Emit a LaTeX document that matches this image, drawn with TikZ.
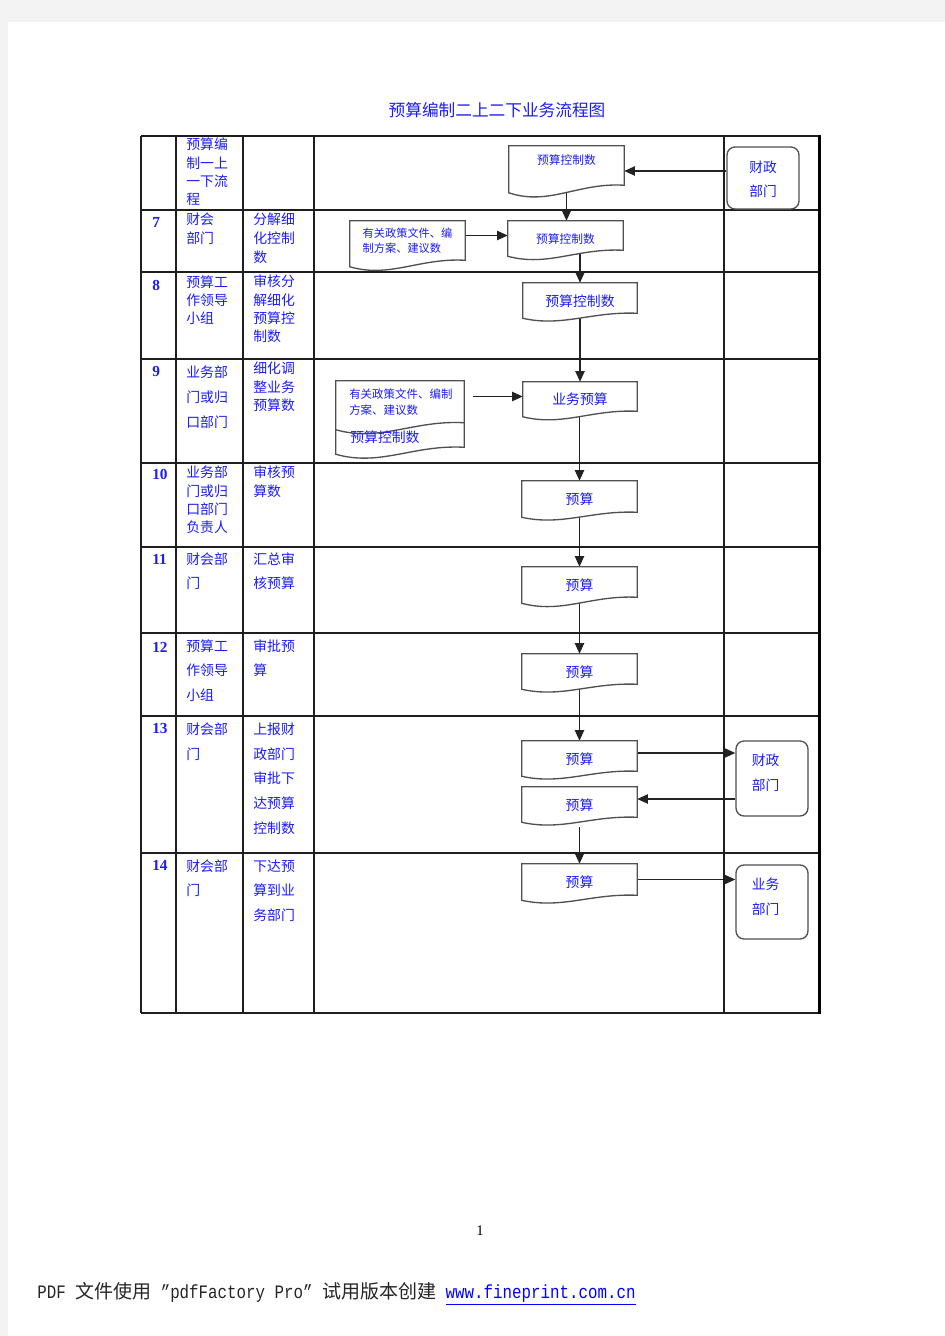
\documentclass[tikz,border=0pt]{standalone}
\usepackage{fontspec}
\usepackage{graphicx}
\setmainfont{Liberation Serif}
\newfontfamily\cjk{Noto Sans CJK SC}
\newfontfamily\monof{Liberation Mono}
\usetikzlibrary{calc,arrows.meta}
\pgfdeclarelayer{bg}
\pgfdeclarelayer{conn}
\pgfdeclarelayer{shp}
\pgfsetlayers{bg,conn,shp,main}
\definecolor{tblue}{RGB}{28,28,250}
\definecolor{pagegray}{RGB}{243,243,243}
\definecolor{gridc}{RGB}{30,30,30}
\definecolor{shpc}{RGB}{80,80,80}
\definecolor{arrc}{RGB}{35,35,35}
% #1 opts, #2 name, #3 x1, #4 ytop, #5 x2, #6 y right-bottom, #7 wave drop, #8 text
\newcommand{\docnode}[8][]{%
  \node[docbox,#1, minimum width={(#5-#3)*0.75pt}, minimum height={(#6-#4)*0.75pt}] (#2) at ({(#3+#5)/2},{(#4+#6)/2}) {#8};
  \begin{pgfonlayer}{shp}
  \draw[shp] (#2.north west) -- (#2.north east) -- (#2.south east)
    .. controls ($(#2.south east)+({-0.4*(#5-#3)},{-0.4*#7})$) and ($(#2.south west)+({0.35*(#5-#3)},{2.8*#7})$) .. ($(#2.south west)+(0,#7)$) -- cycle;
  \end{pgfonlayer}}
\newcommand{\latn}[1]{\scalebox{0.833}[1]{\monof\fontsize{14.25}{16}\selectfont #1}}
\begin{document}
\begin{tikzpicture}[x=0.75pt,y=-0.75pt,
  grid/.style={draw=gridc, line width=0.95pt},
  docbox/.style={rectangle, inner sep=0pt, text=tblue, font=\cjk\fontsize{10.4}{12}\selectfont},
  smallf/.style={font=\cjk\fontsize{8.8}{10}\selectfont},
  tlow/.style={text height=1.3em, text depth=0.07em},
  tup/.style={text height=0.83em, text depth=9.6pt},
  shp/.style={draw=shpc, line width=1pt, fill=white},
  arr/.style={draw=arrc, line width=1pt, -{Triangle[length=8pt,width=7pt]}},
  side/.style={rectangle, rounded corners=6pt, draw=shpc, line width=1pt, fill=white, inner sep=0pt, minimum width=54pt},
  sidet/.style={align=center, inner sep=0pt, text=tblue},
  cellt/.style={anchor=north west, inner sep=0pt, text=tblue, align=left},
  sA/.style={font=\cjk\fontsize{10.4}{13.75}\selectfont},
  sB/.style={font=\cjk\fontsize{10.4}{14}\selectfont},
  sC/.style={font=\cjk\fontsize{10.4}{18.5}\selectfont},
  numt/.style={anchor=west, inner sep=0pt, text=tblue, font=\bfseries\fontsize{11.5}{12}\selectfont}
]
\useasboundingbox (0,0) rectangle (945,1336);
\begin{pgfonlayer}{bg}
\fill[pagegray] (0,0) rectangle (945,1336);
\fill[white] (8,22) rectangle (945,1336);
\end{pgfonlayer}

% title
\node[text=tblue, font=\cjk\fontsize{12.5}{14}\selectfont] (title) at (497,110) {预算编制二上二下业务流程图};

% table grid
\foreach \y in {136,210,272,359,463,547,633,716,853,1013}
  \draw[grid] (141,\y) -- (820,\y);
\foreach \x in {141,176,243,314,724}
  \draw[grid] (\x,136) -- (\x,1013);
\draw[draw=black, line width=1.6pt] (819.5,135.4) -- (819.5,1013.6);

% cell texts
\node[cellt,sA] (h1) at (186,137.8) {预算编\\制一上\\一下流\\程};

\node[numt] (n7) at (152,222) {7};
\node[cellt,sB] (r7a) at (186,212.8) {财会\\部门};
\node[cellt,sB] (r7b) at (253,212.8) {分解细\\化控制\\数};

\node[numt] (n8) at (152,285) {8};
\node[cellt,sA] (r8a) at (186,275.3) {预算工\\作领导\\小组};
\node[cellt,sA] (r8b) at (253,274.8) {审核分\\解细化\\预算控\\制数};

\node[numt] (n9) at (152,371) {9};
\node[cellt,sC] (r9a) at (186,365.8) {业务部\\门或归\\口部门};
\node[cellt,sA] (r9b) at (253,361.8) {细化调\\整业务\\预算数};

\node[numt] (n10) at (152,474.5) {10};
\node[cellt,sA] (r10a) at (186,465.8) {业务部\\门或归\\口部门\\负责人};
\node[cellt,sA] (r10b) at (253,465.8) {审核预\\算数};

\node[numt] (n11) at (152,559.5) {11};
\node[cellt,sC] (r11a) at (186,552.3) {财会部\\门};
\node[cellt,sC] (r11b) at (253,552.3) {汇总审\\核预算};

\node[numt] (n12) at (152,647.5) {12};
\node[cellt,sC] (r12a) at (186,639.3) {预算工\\作领导\\小组};
\node[cellt,sC] (r12b) at (253,639.3) {审批预\\算};

\node[numt] (n13) at (152,728.7) {13};
\node[cellt,sC] (r13a) at (186,722.6) {财会部\\门};
\node[cellt,sC] (r13b) at (253,722.6) {上报财\\政部门\\审批下\\达预算\\控制数};

\node[numt] (n14) at (152,865.5) {14};
\node[cellt,sC] (r14a) at (186,859.3) {财会部\\门};
\node[cellt,sC] (r14b) at (253,859.3) {下达预\\算到业\\务部门};

% document shapes
\docnode[tup,smallf]{d1}{509}{146}{624}{185}{7.5}{预算控制数}
\docnode[align=left, font=\cjk\fontsize{8.4}{11.25}\selectfont]{d2}{350}{221}{465}{260}{6.5}{有关政策文件、编\\制方案、建议数}
\docnode[tlow,smallf]{d3}{508}{221}{623}{250}{6}{预算控制数}
\docnode[tlow]{d4}{523}{283}{637}{313}{5}{预算控制数}
\docnode[tlow]{d5}{523}{382}{637}{411}{5.5}{业务预算}
\docnode{d6}{336}{381}{464}{447}{7}{}
\begin{pgfonlayer}{shp}
\draw[draw=shpc, line width=1pt] ($(d6.north east)+(0,42)$)
  .. controls ($(d6.north east)+(-51.2,39.2)$) and ($(d6.north west)+(44.8,61.6)$) .. ($(d6.north west)+(0,49)$);
\end{pgfonlayer}
\node[cellt, font=\cjk\fontsize{8.6}{12}\selectfont] (d6a) at (349,388.8) {有关政策文件、编制\\方案、建议数};
\node[anchor=west, inner sep=0pt, text=tblue, font=\cjk\fontsize{10.4}{12}\selectfont] (d6b) at (350,437) {预算控制数};

\docnode[tlow]{p10}{522}{481}{637}{512}{5}{预算}
\docnode[tlow]{p11}{522}{567}{637}{597}{6}{预算}
\docnode[tlow]{p12}{522}{654}{637}{684}{5}{预算}
\docnode[tlow]{p13a}{522}{741}{637}{771}{5}{预算}
\docnode[tlow]{p13b}{522}{787}{637}{817}{5}{预算}
\docnode[tlow]{p14}{522}{864}{637}{895}{5}{预算}

% side boxes
\node[side, minimum height=46.5pt] (fz1) at (763,178) {};
\node[sidet, font=\cjk\fontsize{10.3}{18}\selectfont] (fz1t) at (763,179) {财政\\部门};
\node[side, minimum height=56.25pt] (fz2) at (772,778.5) {};
\node[sidet, font=\cjk\fontsize{10.3}{18.75}\selectfont] (fz2t) at (765.5,772.5) {财政\\部门};
\node[side, minimum height=55.5pt] (yw) at (772,902) {};
\node[sidet, font=\cjk\fontsize{10.3}{18.75}\selectfont] (ywt) at (765.5,897) {业务\\部门};

% connectors
\begin{pgfonlayer}{conn}
\coordinate (a1s) at ($(fz1.west)+(0,-7)$);
\draw[arr] (a1s) -- (a1s -| d1.east);
\draw[arr] (d1.south) -- (d1.south |- d3.north);
\draw[arr] (d2.east |- d3.west) -- (d3.west);
\draw[arr] (d4.north |- d3.south) -- (d4.north);
\draw[arr] (d4.south) -- (d5.north);
\coordinate (a6s) at ($(d6.east)+(9,0)$);
\draw[arr] (a6s |- d5.west) -- (d5.west);
\draw[arr] (p10.north |- d5.south) -- (p10.north);
\draw[arr] (p10.south) -- (p11.north);
\draw[arr] (p11.south) -- (p12.north);
\draw[arr] (p12.south) -- (p13a.north);
\coordinate (a8s) at ($(p13a.east)+(0,-3)$);
\draw[arr] (a8s) -- (a8s -| fz2.west);
\coordinate (a9e) at ($(p13b.east)+(0,-3)$);
\draw[arr] (a9e -| fz2.west) -- (a9e);
\coordinate (a10s) at ($(p13b.south)+(0,10)$);
\draw[arr] (a10s) -- (p14.north);
\draw[arr] (p14.east) -- (p14.east -| yw.west);
\end{pgfonlayer}

% page number and footer
\node[font=\fontsize{11}{12}\selectfont] (pgnum) at (480,1231) {1};
\node[anchor=west, inner sep=0pt, text=black!85] (foot) at (37,1294) {\latn{PDF\ }{\cjk\fontsize{14.25}{16}\selectfont 文件使用}\latn{\ ”pdfFactory\ Pro”\ }{\cjk\fontsize{14.25}{16}\selectfont 试用版本创建}\latn{\ }\textcolor{blue}{\latn{\underline{www.fineprint.com.cn}}}};
\end{tikzpicture}
\end{document}
